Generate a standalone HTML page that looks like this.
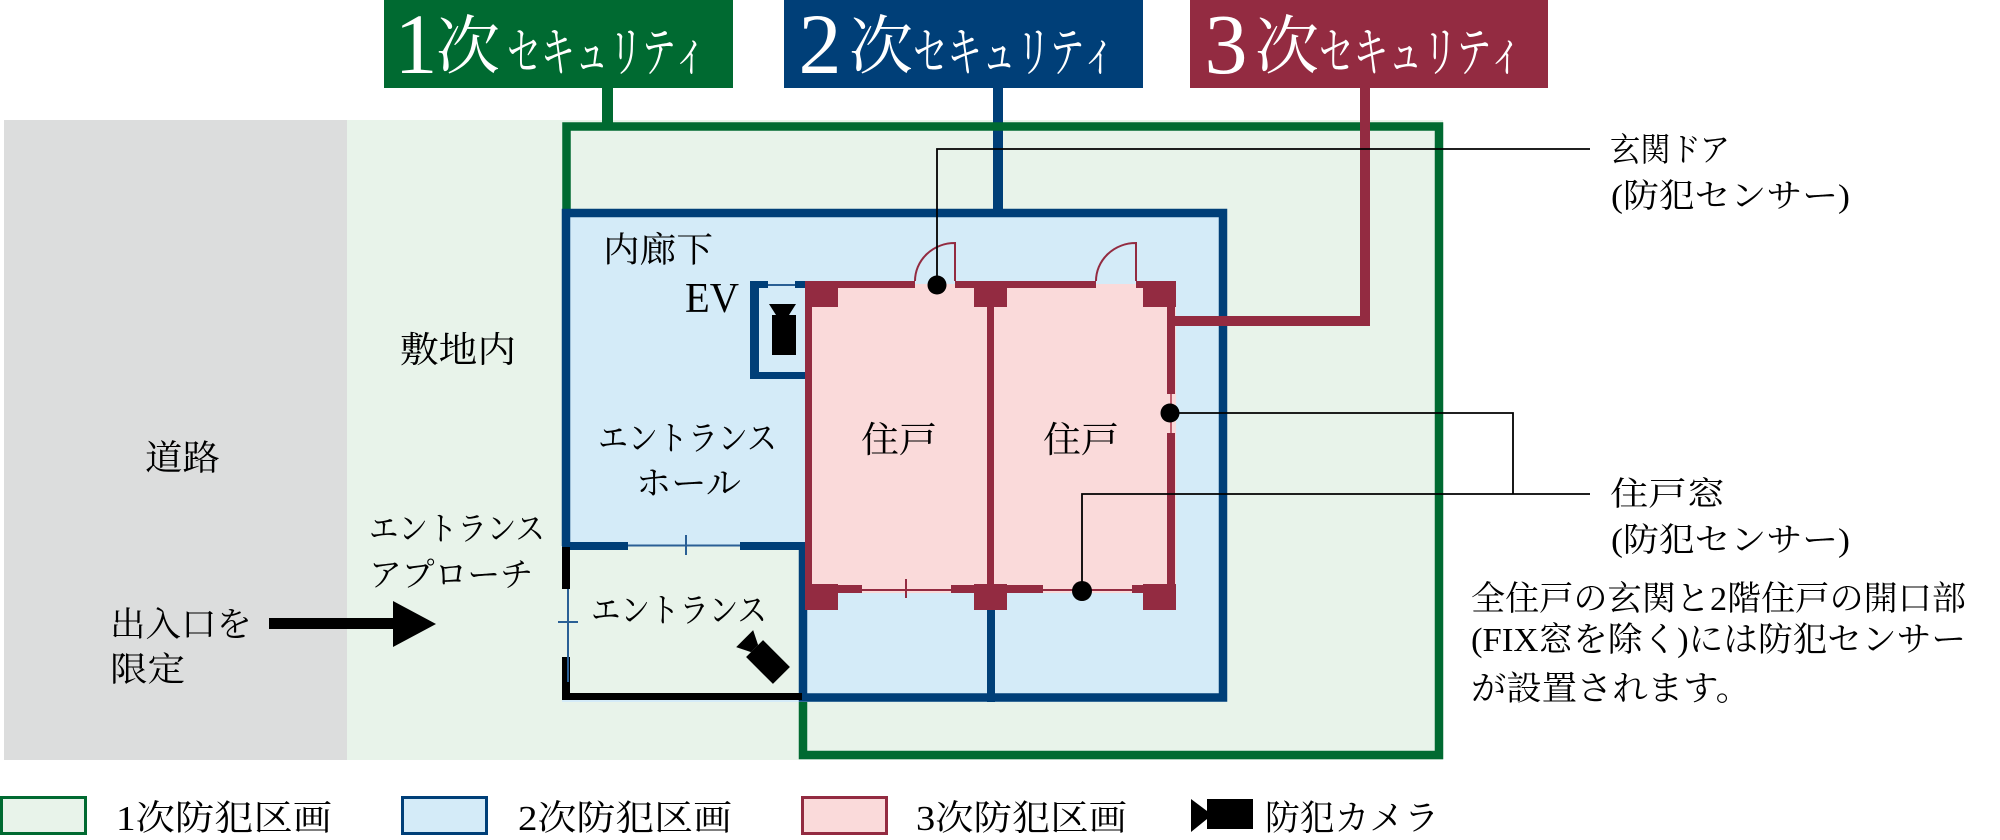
<!DOCTYPE html>
<html>
<head>
<meta charset="utf-8">
<style>
html,body{margin:0;padding:0;background:#fff;}
svg{display:block;}
text{font-family:"Liberation Serif","Noto Serif CJK SC","Noto Serif CJK JP",serif;fill:#000;}
</style>
</head>
<body>
<svg width="2000" height="840" viewBox="0 0 2000 840" xmlns="http://www.w3.org/2000/svg">
<rect width="2000" height="840" fill="#fff"/>

<!-- backgrounds -->
<rect x="4" y="120" width="343" height="640" fill="#dcdddd"/>
<rect x="347" y="120" width="1096" height="640" fill="#e8f3ea"/>
<rect x="562" y="209" width="665" height="493" fill="#d4ebf8"/>
<rect x="562" y="546" width="241" height="154" fill="#e8f3ea"/>
<rect x="805" y="284" width="371" height="309" fill="#fadada"/>

<!-- top boxes -->
<rect x="384" y="0" width="349" height="88" fill="#006a31"/>
<rect x="784" y="0" width="359" height="88" fill="#003f78"/>
<rect x="1190" y="0" width="358" height="88" fill="#932b41"/>

<!-- connectors -->
<rect x="602" y="88" width="11" height="36" fill="#006a31"/>
<rect x="993" y="88" width="10" height="125" fill="#003f78"/>

<!-- green outline -->
<path d="M566.5,209 V126.5 H1439 V755 H803 V702" fill="none" stroke="#006a31" stroke-width="8.5"/>

<!-- blue outline -->
<path d="M566,546 V213 H1223 V697.5 H803 V546" fill="none" stroke="#003f78" stroke-width="8.5"/>

<!-- entrance hall bottom wall with window -->
<rect x="562" y="542" width="66" height="8" fill="#003f78"/>
<rect x="740" y="542" width="67" height="8" fill="#003f78"/>
<line x1="628" y1="545.5" x2="740" y2="545.5" stroke="#2a5f95" stroke-width="2"/>
<line x1="686" y1="535" x2="686" y2="555" stroke="#2a5f95" stroke-width="2"/>

<!-- entrance black walls -->
<rect x="562" y="547" width="8" height="42" fill="#000"/>
<rect x="562" y="657" width="8" height="43" fill="#000"/>
<rect x="562" y="693" width="240" height="7" fill="#000"/>
<line x1="568" y1="589" x2="568" y2="682" stroke="#2a5f95" stroke-width="2"/>
<line x1="558" y1="622" x2="578" y2="622" stroke="#2a5f95" stroke-width="2"/>

<!-- blue middle wall -->
<rect x="987" y="609" width="8" height="93" fill="#003f78"/>

<!-- EV shaft -->
<rect x="750" y="281" width="9" height="98" fill="#003f78"/>
<rect x="750" y="372" width="56" height="7" fill="#003f78"/>
<rect x="750" y="281" width="18" height="7" fill="#003f78"/>
<rect x="795" y="281" width="11" height="7" fill="#003f78"/>
<line x1="768" y1="285" x2="795" y2="285" stroke="#2a5f95" stroke-width="2"/>
<!-- EV camera -->
<polygon points="769,304 796,304 789,315 776,315" fill="#000"/>
<rect x="772" y="315" width="24" height="40" fill="#000"/>

<!-- red unit walls -->
<g fill="#932b41">
<rect x="805" y="281" width="110" height="7"/>
<rect x="955" y="281" width="141" height="7"/>
<rect x="1136" y="281" width="40" height="7"/>
<rect x="805" y="281" width="7" height="312"/>
<rect x="987" y="281" width="7" height="312"/>
<rect x="1167" y="281" width="8" height="113"/>
<rect x="1167" y="433" width="8" height="160"/>
<rect x="805" y="585" width="57" height="8"/>
<rect x="951" y="585" width="92" height="8"/>
<rect x="1132" y="585" width="44" height="8"/>
<rect x="805" y="281" width="33" height="26"/>
<rect x="974" y="281" width="33" height="26"/>
<rect x="1143" y="281" width="33" height="26"/>
<rect x="805" y="584" width="33" height="26"/>
<rect x="974" y="584" width="33" height="26"/>
<rect x="1143" y="584" width="33" height="26"/>
</g>
<line x1="1171" y1="394" x2="1171" y2="433" stroke="#c06070" stroke-width="2"/>
<line x1="862" y1="590" x2="951" y2="590" stroke="#932b41" stroke-width="2"/>
<line x1="906" y1="579" x2="906" y2="598" stroke="#932b41" stroke-width="2"/>
<line x1="1043" y1="590" x2="1132" y2="590" stroke="#932b41" stroke-width="2"/>

<!-- doors -->
<path d="M915,281 A40,38 0 0 1 955,243 V281" fill="none" stroke="#932b41" stroke-width="2"/>
<path d="M1096,281 A40,38 0 0 1 1136,243 V281" fill="none" stroke="#932b41" stroke-width="2"/>

<!-- red connector -->
<path d="M1365,88 V321 H1175" fill="none" stroke="#932b41" stroke-width="10"/>

<!-- leader lines -->
<g fill="none" stroke="#000" stroke-width="1.8">
<path d="M937,285 V149 H1590"/>
<path d="M1170,413 H1513 V494"/>
<path d="M1082,591 V494 H1590"/>
</g>
<circle cx="937" cy="285" r="9.5" fill="#000"/>
<circle cx="1170" cy="413" r="9.5" fill="#000"/>
<circle cx="1082" cy="591" r="10" fill="#000"/>

<!-- entrance camera -->
<g transform="translate(768,662) rotate(45)" fill="#000">
<rect x="-19" y="-12" width="38" height="24"/>
<polygon points="-19,-5 -19,5 -33,12 -33,-12"/>
</g>

<!-- arrow -->
<rect x="269" y="618" width="124" height="11" fill="#000"/>
<polygon points="393,601 436,624 393,647" fill="#000"/>

<!-- top box texts -->
<text x="416" y="73" font-size="86" text-anchor="middle" style="fill:#fff">1</text>
<text x="468" y="68.5" font-size="64" text-anchor="middle" style="fill:#fff">次</text>
<text x="507" y="71" font-size="54" textLength="200" lengthAdjust="spacingAndGlyphs" style="fill:#fff">セキュリティ</text>

<text x="820" y="73" font-size="86" text-anchor="middle" style="fill:#fff">2</text>
<text x="881" y="68.5" font-size="64" text-anchor="middle" style="fill:#fff">次</text>
<text x="913" y="71" font-size="54" textLength="203" lengthAdjust="spacingAndGlyphs" style="fill:#fff">セキュリティ</text>

<text x="1226" y="73" font-size="86" text-anchor="middle" style="fill:#fff">3</text>
<text x="1287" y="68.5" font-size="64" text-anchor="middle" style="fill:#fff">次</text>
<text x="1319" y="71" font-size="54" textLength="204" lengthAdjust="spacingAndGlyphs" style="fill:#fff">セキュリティ</text>

<!-- area labels -->
<text x="145" y="470" font-size="35" textLength="75" lengthAdjust="spacingAndGlyphs">道路</text>
<text x="400" y="362" font-size="36" textLength="116" lengthAdjust="spacingAndGlyphs">敷地内</text>
<text x="110" y="636" font-size="34" textLength="142" lengthAdjust="spacingAndGlyphs">出入口を</text>
<text x="110" y="681" font-size="34" textLength="75" lengthAdjust="spacingAndGlyphs">限定</text>
<text x="369" y="540" font-size="33" textLength="176" lengthAdjust="spacingAndGlyphs">エントランス</text>
<text x="369" y="586" font-size="33" textLength="164" lengthAdjust="spacingAndGlyphs">アプローチ</text>
<text x="603" y="262" font-size="35" textLength="110" lengthAdjust="spacingAndGlyphs">内廊下</text>
<text x="685" y="312" font-size="42" textLength="54" lengthAdjust="spacingAndGlyphs">EV</text>
<text x="598" y="450" font-size="34" textLength="179" lengthAdjust="spacingAndGlyphs">エントランス</text>
<text x="636" y="495" font-size="34" textLength="105" lengthAdjust="spacingAndGlyphs">ホール</text>
<text x="861" y="452" font-size="36" textLength="76" lengthAdjust="spacingAndGlyphs">住戸</text>
<text x="1043" y="452" font-size="36" textLength="76" lengthAdjust="spacingAndGlyphs">住戸</text>
<text x="591" y="622" font-size="34" textLength="176" lengthAdjust="spacingAndGlyphs">エントランス</text>

<!-- right labels -->
<text x="1610" y="161" font-size="33" textLength="120" lengthAdjust="spacingAndGlyphs">玄関ドア</text>
<text x="1611" y="207" font-size="33" textLength="239" lengthAdjust="spacingAndGlyphs">(防犯センサー)</text>
<text x="1610" y="505" font-size="33" textLength="115" lengthAdjust="spacingAndGlyphs">住戸窓</text>
<text x="1611" y="551" font-size="33" textLength="239" lengthAdjust="spacingAndGlyphs">(防犯センサー)</text>
<text x="1471" y="610" font-size="34" textLength="495" lengthAdjust="spacingAndGlyphs">全住戸の玄関と2階住戸の開口部</text>
<text x="1471" y="651" font-size="34" textLength="495" lengthAdjust="spacingAndGlyphs">(FIX窓を除く)には防犯センサー</text>
<text x="1471" y="700" font-size="34" textLength="280" lengthAdjust="spacingAndGlyphs">が設置されます。</text>

<!-- legend -->
<rect x="1.5" y="797.5" width="84" height="36" fill="#e8f3ea" stroke="#006a31" stroke-width="3"/>
<rect x="402.5" y="797.5" width="84" height="36" fill="#d4ebf8" stroke="#003f78" stroke-width="3"/>
<rect x="802.5" y="797.5" width="84" height="36" fill="#fadada" stroke="#932b41" stroke-width="3"/>
<polygon points="1191,799 1207,811 1207,819 1191,832" fill="#000"/>
<rect x="1207" y="799" width="46" height="30" fill="#000"/>
<text x="116" y="830" font-size="35" textLength="216" lengthAdjust="spacingAndGlyphs">1次防犯区画</text>
<text x="518" y="830" font-size="35" textLength="214" lengthAdjust="spacingAndGlyphs">2次防犯区画</text>
<text x="916" y="830" font-size="35" textLength="211" lengthAdjust="spacingAndGlyphs">3次防犯区画</text>
<text x="1265" y="830" font-size="35" textLength="174" lengthAdjust="spacingAndGlyphs">防犯カメラ</text>
</svg>
</body>
</html>
